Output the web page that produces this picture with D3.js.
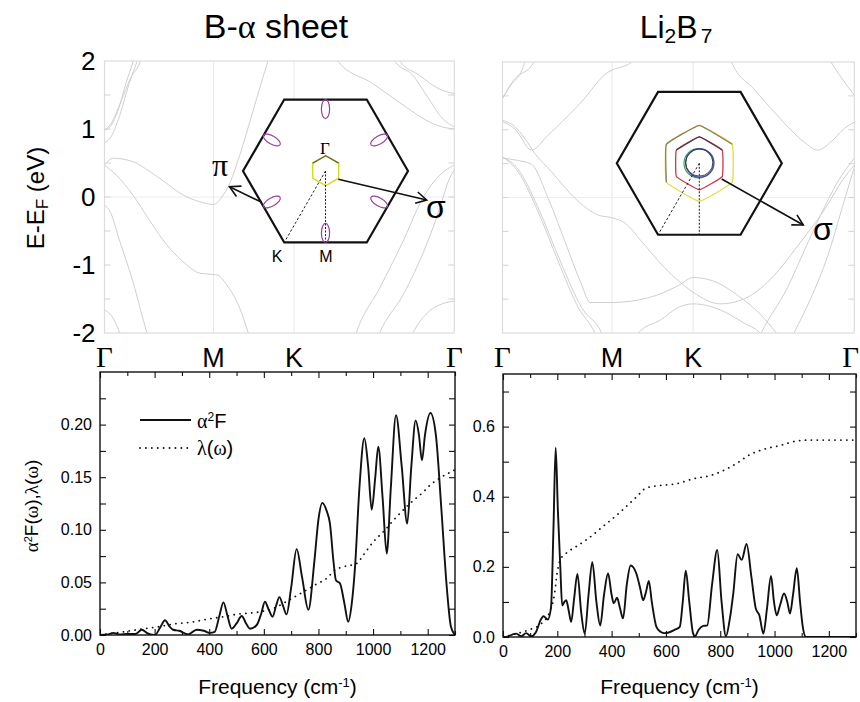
<!DOCTYPE html>
<html><head><meta charset="utf-8">
<script src="https://cdn.jsdelivr.net/npm/d3@7"></script>
<style>
body{margin:0;background:#fff}
text{font-family:"Liberation Sans",Arial,sans-serif;fill:#000}
</style></head>
<body><svg id="c" width="860" height="702" xmlns="http://www.w3.org/2000/svg"></svg>
<script>
// ---------- DATA ----------
const titles = ["B-α sheet", "Li2B7"];
const kTicks = [0, 1, 1.74, 3.21];
const kLabels = ["Γ", "M", "K", "Γ"];
const eTicks = [-2, -1, 0, 1, 2];

// band structure of B-alpha sheet, [k, E(eV)]
const bandsAlpha = [
  [[0,0.47],[0.08,0.57],[0.26,0.52],[0.42,0.37],[0.57,0.20],[0.72,0.03],[0.875,-0.07],[1.0,-0.11],[1.09,0.03],[1.135,0.15],[1.24,0.61],[1.36,1.25],[1.50,2.0],[1.53,2.15]],
  [[0,0.47],[0.11,0.32],[0.26,0.03],[0.42,-0.36],[0.57,-0.70],[0.72,-0.95],[0.875,-1.12],[1.0,-1.14],[1.04,-1.15],[1.12,-1.29],[1.24,-1.63],[1.32,-2.0],[1.35,-2.15]],
  [[0,0.80],[0.05,0.86],[0.14,1.20],[0.23,1.69],[0.30,2.0],[0.32,2.1]],
  [[0,0.98],[0.05,1.03],[0.13,1.30],[0.20,1.69],[0.26,1.98],[0.28,2.1]],
  [[0,0.98],[0.06,1.08],[0.15,1.40],[0.24,1.75],[0.33,2.0],[0.35,2.1]],
  [[0,-0.12],[0.05,-0.21],[0.14,-0.65],[0.26,-1.24],[0.39,-2.0],[0.41,-2.1]],
  [[0,-1.66],[0.05,-1.72],[0.14,-2.0],[0.16,-2.1]],
  [[2.12,2.1],[2.14,2.0],[2.46,1.67],[2.77,1.32],[2.95,1.13],[3.1,1.03],[3.21,1.0]],
  [[2.64,2.1],[2.663,2.0],[2.83,1.79],[2.953,1.5],[3.105,1.15],[3.21,1.03]],
  [[2.69,2.1],[2.71,2.0],[2.89,1.79],[3.07,1.59],[3.21,1.52]],
  [[2.28,-2.15],[2.31,-2.0],[2.525,-1.34],[2.74,-0.65],[2.92,-0.02],[3.075,0.32],[3.21,0.47]],
  [[2.5,-2.1],[2.525,-2.0],[2.74,-1.44],[2.95,-0.72],[3.08,-0.15],[3.16,0.25],[3.21,0.40]],
  [[2.80,-2.1],[2.83,-2.0],[2.98,-1.68],[3.1,-1.57],[3.21,-1.53]]
];

// band structure of Li2B7, [k, E(eV)]
const bandsLi = [
  [[0,1.46],[0.1,1.73],[0.28,1.98],[0.3,2.1]],
  [[0,1.46],[0.06,1.62],[0.2,1.98],[0.22,2.1]],
  [[0,1.12],[0.12,1.0],[0.264,0.70],[0.416,0.92],[0.72,1.41],[0.965,1.85],[1.0,1.88],[1.18,2.0],[1.22,2.1]],
  [[0,1.14],[0.11,1.05],[0.2,0.88],[0.3,0.64],[0.447,0.38],[0.66,-0.01],[0.875,-0.26],[1.0,-0.30],[1.12,-0.38],[1.27,-0.65],[1.48,-1.04],[1.606,-1.23],[1.74,-1.40],[1.99,-1.57],[2.2,-1.5],[2.45,-1.2],[2.7,-0.7],[2.95,-0.15],[3.1,0.25],[3.21,0.48]],
  [[0,0.58],[0.13,0.55],[0.264,0.49],[0.416,-0.01],[0.57,-0.65],[0.72,-1.28],[0.80,-1.55],[1.0,-1.55],[1.33,-1.48],[1.606,-1.30],[1.74,-1.18],[1.95,-1.25],[2.15,-1.45],[2.35,-1.72],[2.5,-2.0],[2.55,-2.1]],
  [[0,0.60],[0.142,0.38],[0.325,-0.21],[0.508,-0.94],[0.69,-1.62],[0.843,-2.0],[0.87,-2.1]],
  [[0,0.60],[0.142,0.42],[0.325,-0.15],[0.53,-0.95],[0.72,-1.62],[0.904,-2.0],[0.93,-2.1]],
  [[1.22,-2.1],[1.24,-2.0],[1.45,-1.8],[1.606,-1.62],[1.74,-1.57],[1.99,-1.66],[2.2,-1.85],[2.35,-2.0],[2.4,-2.1]],
  [[2.07,2.1],[2.09,2.0],[2.295,1.60],[2.508,1.21],[2.752,0.82],[2.875,0.70],[2.997,0.82],[3.12,1.02],[3.21,1.11]],
  [[2.96,2.1],[2.997,2.0],[3.1,1.75],[3.21,1.51]],
  [[2.33,-2.1],[2.36,-2.0],[2.6,-1.33],[2.752,-0.79],[2.905,-0.25],[3.058,0.23],[3.21,0.58]],
  [[2.63,-2.1],[2.66,-2.0],[2.81,-1.5],[2.97,-0.85],[3.1,-0.15],[3.21,0.45]]
];

// Eliashberg function and lambda, B-alpha sheet
const freqA2FLeft = [0,30,49,70,100,130,153,175,201,220,238,255,268,290,323,354,380,403,420,437,452,467,482,500,519,535,549,574,590,604,618,632,645,657,670,683,700,720,740,763,785,800,814,830,842,855,864,879,895,909,922,934,950,968,982,995,1008,1019,1035,1050,1065,1084,1105,1125,1140,1156,1168,1179,1190,1210,1230,1250,1270,1285,1300];
const a2fLeft = [0,0.0005,0.002,0.0005,0.001,0.001,0.005,0.0015,0.0,0.007,0.014,0.008,0.005,0.004,0.0006,0.005,0.004,0.002,0.003,0.018,0.031,0.018,0.006,0.011,0.018,0.011,0.006,0.0095,0.02,0.0316,0.024,0.0174,0.028,0.036,0.028,0.0196,0.045,0.0816,0.055,0.024,0.07,0.11,0.1256,0.118,0.106,0.07,0.052,0.049,0.03,0.0126,0.03,0.065,0.14,0.187,0.16,0.119,0.15,0.179,0.13,0.0775,0.14,0.209,0.16,0.106,0.16,0.204,0.19,0.166,0.19,0.211,0.19,0.12,0.045,0.008,0.0];
const freqLamLeft = [0,85,146,207,268,330,391,452,510,574,635,696,745,793,830,860,891,940,964,1001,1037,1086,1135,1184,1208,1250,1300];
const lamLeft = [0,0.003,0.0054,0.0075,0.0104,0.012,0.0149,0.0174,0.02,0.0215,0.0253,0.0338,0.0411,0.0484,0.0538,0.0617,0.0648,0.068,0.0759,0.0886,0.098,0.1123,0.125,0.136,0.1423,0.15,0.157];

// Eliashberg function and lambda, Li2B7
const freqA2FRight = [0,20,36,49,67,85,104,120,141,149,165,177,186,194,202,211,218,226,233,242,251,262,274,288,301,315,329,344,358,372,387,400,408,420,430,442,456,470,491,505,516,527,537,548,565,580,596,633,651,662,673,686,700,707,720,737,752,770,789,805,821,835,848,864,879,897,915,931,944,959,972,987,998,1008,1020,1035,1047,1057,1068,1082,1094,1104,1116,1200,1300];
const a2fRight = [0,0.002,0.0076,0.0095,0.002,0.011,0.002,0.012,0.052,0.059,0.05,0.086,0.315,0.54,0.363,0.2,0.09,0.1,0.105,0.075,0.043,0.11,0.18,0.07,0.0095,0.12,0.213,0.1,0.033,0.12,0.181,0.12,0.096,0.112,0.085,0.053,0.15,0.204,0.181,0.14,0.105,0.13,0.16,0.1,0.029,0.015,0.011,0.021,0.029,0.1,0.189,0.1,0.01,0.002,0.02,0.0315,0.033,0.15,0.248,0.1,0.002,0.05,0.124,0.236,0.22,0.265,0.17,0.081,0.062,0.0095,0.08,0.174,0.1,0.062,0.09,0.124,0.1,0.067,0.12,0.196,0.1,0.029,0.0,0.0,0.0];
const freqLamRight = [0,49,98,141,172,190,199,211,233,270,307,368,430,491,528,577,639,700,762,823,860,909,959,1020,1082,1131,1200,1300];
const lamRight = [0,0.0095,0.021,0.038,0.072,0.124,0.181,0.22,0.239,0.258,0.277,0.315,0.355,0.399,0.425,0.432,0.437,0.451,0.46,0.479,0.495,0.52,0.535,0.546,0.559,0.5615,0.5615,0.5615];

const freqTicks = [0,200,400,600,800,1000,1200];
const freqMinor = [100,300,500,700,900,1100,1300];
const leftYTicks = [0,0.05,0.10,0.15,0.20];
const leftYMinor = [0.025,0.075,0.125,0.175,0.225];
const rightYTicks = [0,0.2,0.4,0.6];
const rightYMinor = [0.1,0.3,0.5,0.7];

// ---------- DRAW ----------
const svg = d3.select("#c");
svg.append("rect").attr("width",860).attr("height",702).attr("fill","#fff");
const defs = svg.append("defs");

function topPanel(id, x0, x1, y0, y1, bands, showY) {
  const k = d3.scaleLinear().domain([0, 3.21]).range([x0, x1]);
  const e = d3.scaleLinear().domain([-2, 2]).range([y1, y0]);
  const g = svg.append("g");
  defs.append("clipPath").attr("id", id).append("rect")
    .attr("x", x0).attr("y", y0).attr("width", x1 - x0).attr("height", y1 - y0);
  [kTicks[1], kTicks[2]].forEach(t => g.append("line")
    .attr("x1", k(t)).attr("x2", k(t)).attr("y1", y0).attr("y2", y1)
    .attr("stroke", "#e8e8e8").attr("stroke-width", 1));
  g.append("line").attr("x1", x0).attr("x2", x1).attr("y1", e(0)).attr("y2", e(0))
    .attr("stroke", "#eeeeee").attr("stroke-width", 1);
  const line = d3.line().x(d => k(d[0])).y(d => e(d[1])).curve(d3.curveMonotoneX);
  g.append("g").attr("clip-path", `url(#${id})`).selectAll("path").data(bands).join("path")
    .attr("d", line).attr("fill", "none").attr("stroke", "#cfcfcf").attr("stroke-width", 1);
  g.append("rect").attr("x", x0).attr("y", y0).attr("width", x1 - x0).attr("height", y1 - y0)
    .attr("fill", "none").attr("stroke", "#dcdcdc").attr("stroke-width", 1.2);
  d3.range(-1.5, 1.51, 0.5).forEach(t => {
    g.append("line").attr("x1", x0).attr("x2", x0 + 6).attr("y1", e(t)).attr("y2", e(t)).attr("stroke", "#d4d4d4");
    g.append("line").attr("x1", x1).attr("x2", x1 - 6).attr("y1", e(t)).attr("y2", e(t)).attr("stroke", "#d4d4d4");
  });
  if (showY) {
    const ax = g.append("g").attr("transform", `translate(${x0},0)`)
      .call(d3.axisLeft(e).tickValues(eTicks).tickSize(0).tickPadding(9).tickFormat(d => String(d)));
    ax.select(".domain").remove();
    ax.selectAll("text").style("font-family", '"Liberation Sans",Arial,sans-serif').style("font-size", "26px");
  }
  kTicks.forEach((t, i) => {
    const isG = kLabels[i] === "Γ";
    const last = i === kTicks.length - 1 && x1 > 850;
    g.append("text").attr("x", last ? 859 : k(t)).attr("y", 367).attr("text-anchor", last ? "end" : "middle")
      .style("font-family", isG ? '"Liberation Serif","Times New Roman",serif' : '"Liberation Sans",Arial,sans-serif')
      .style("font-size", isG ? "29px" : "27px").text(kLabels[i]);
  });
  return {k, e};
}

topPanel("clipA", 104.5, 454.3, 61, 333, bandsAlpha, true);
topPanel("clipL", 502.5, 854.3, 62, 333, bandsLi, false);

svg.append("text").attr("transform", "translate(44,198) rotate(-90)").attr("text-anchor", "middle")
  .style("font-size", "24px")
  .call(t => { t.append("tspan").text("E-E");
               t.append("tspan").attr("baseline-shift", "-25%").style("font-size", "17px").text("F");
               t.append("tspan").text(" (eV)"); });

svg.append("text").attr("x", 276).attr("y", 38).attr("text-anchor", "middle").style("font-size", "34px")
  .call(t => { t.append("tspan").text("B-");
               t.append("tspan").style("font-family", '"Liberation Serif",serif').text("α");
               t.append("tspan").text(" sheet"); });
svg.append("text").attr("x", 676).attr("y", 38).attr("text-anchor", "middle").style("font-size", "32px")
  .call(t => { t.append("tspan").text("Li");
               t.append("tspan").attr("baseline-shift", "-25%").style("font-size", "21px").text("2");
               t.append("tspan").text("B");
               t.append("tspan").attr("baseline-shift", "-25%").style("font-size", "21px").attr("dx", 3).text("7"); });

// ---------- Insets ----------
function hexPts(cx, cy, r, flat) {
  return d3.range(6).map(i => {
    const a = (flat ? 0 : 30) * Math.PI / 180 + i * Math.PI / 3;
    return [cx + r * Math.cos(a), cy - r * Math.sin(a)];
  });
}
function arrow(g, x1, y1, x2, y2) {
  g.append("line").attr("x1", x1).attr("y1", y1).attr("x2", x2).attr("y2", y2)
    .attr("stroke", "#111").attr("stroke-width", 1.6);
  const ang = Math.atan2(y2 - y1, x2 - x1), L = 12, h = 0.5;
  const p = [[x2 - L * Math.cos(ang - h), y2 - L * Math.sin(ang - h)], [x2, y2], [x2 - L * Math.cos(ang + h), y2 - L * Math.sin(ang + h)]];
  g.append("path").attr("d", d3.line()(p)).attr("fill", "none").attr("stroke", "#111").attr("stroke-width", 1.6);
}
const closed = d3.line().curve(d3.curveLinearClosed);

{
  const g = svg.append("g");
  const cx = 325.5, cy = 171, R = 82.5;
  const hex = hexPts(cx, cy, R, true);
  g.append("path").attr("d", closed(hex)).attr("fill", "#fff").attr("stroke", "#111").attr("stroke-width", 2.2);
  const ap = R * Math.sqrt(3) / 2;
  d3.range(6).forEach(i => {
    const a = (30 + 60 * i);
    const ex = cx + (ap - 9.5) * Math.cos(a * Math.PI / 180), ey = cy - (ap - 9.5) * Math.sin(a * Math.PI / 180);
    g.append("ellipse").attr("cx", 0).attr("cy", 0).attr("rx", 9.5).attr("ry", 4.1)
      .attr("transform", `translate(${ex},${ey}) rotate(${-a})`)
      .attr("fill", "none").attr("stroke", "#9b3fa0").attr("stroke-width", 1.2);
  });
  const sh = hexPts(cx + 0.2, cy - 0.3, 15, false);
  g.append("path").attr("d", closed(sh)).attr("fill", "none").attr("stroke", "#d8d820").attr("stroke-width", 1.4);
  g.append("path").attr("d", d3.line()([sh[2], sh[1], sh[0]])).attr("fill", "none")
    .attr("stroke", "#6d6a30").attr("stroke-width", 1.4);
  g.append("line").attr("x1", cx).attr("y1", cy).attr("x2", hex[4][0]).attr("y2", hex[4][1])
    .attr("stroke", "#222").attr("stroke-width", 1).attr("stroke-dasharray", "2.5,2");
  g.append("line").attr("x1", cx).attr("y1", cy).attr("x2", cx).attr("y2", cy + ap)
    .attr("stroke", "#222").attr("stroke-width", 1).attr("stroke-dasharray", "2,1.5");
  g.append("text").attr("x", 325).attr("y", 153.5).attr("text-anchor", "middle")
    .style("font-family", '"Liberation Serif",serif').style("font-size", "17px").text("Γ");
  g.append("text").attr("x", 277).attr("y", 262).attr("text-anchor", "middle").style("font-size", "16px").text("K");
  g.append("text").attr("x", 326).attr("y", 262).attr("text-anchor", "middle").style("font-size", "16px").text("M");
  arrow(g, 261.7, 202.3, 229.5, 186.7);
  g.append("text").attr("x", 220).attr("y", 176).attr("text-anchor", "middle")
    .style("font-family", '"Liberation Serif",serif').style("font-size", "32px").text("π");
  arrow(g, 338.3, 179.2, 426.7, 200);
  g.append("text").attr("x", 426).attr("y", 218).style("font-size", "32px").text("σ");
}

{
  const g = svg.append("g");
  const cx = 699.3, cy = 163.3, R = 82.5;
  const hex = hexPts(cx, cy, R, true);
  g.append("path").attr("d", closed(hex)).attr("fill", "#fff").attr("stroke", "#111").attr("stroke-width", 2.2);
  const rounded = d3.line().curve(d3.curveCardinalClosed.tension(0.75));
  const hy = hexPts(cx, cy, 38, false);
  g.append("path").attr("d", rounded(hy)).attr("fill", "none").attr("stroke", "#dede3a").attr("stroke-width", 1.3);
  g.append("path").attr("d", d3.line().curve(d3.curveCardinal.tension(0.75))([hy[3], hy[2], hy[1], hy[0]]))
    .attr("fill", "none").attr("stroke", "#8a7f5e").attr("stroke-width", 1.3);
  const hr = hexPts(cx, cy, 26.5, false);
  g.append("path").attr("d", rounded(hr)).attr("fill", "none").attr("stroke", "#c8394a").attr("stroke-width", 1.3);
  g.append("path").attr("d", d3.line().curve(d3.curveCardinal.tension(0.75))([hr[2], hr[1], hr[0]]))
    .attr("fill", "none").attr("stroke", "#5a3545").attr("stroke-width", 1.3);
  g.append("circle").attr("cx", cx - 0.7).attr("cy", cy).attr("r", 14.6).attr("fill", "none").attr("stroke", "#3fa255").attr("stroke-width", 1.2);
  g.append("circle").attr("cx", cx + 0.5).attr("cy", cy - 0.3).attr("r", 14.2).attr("fill", "none").attr("stroke", "#4747a8").attr("stroke-width", 1.2);
  g.append("circle").attr("cx", cx).attr("cy", cy - 0.8).attr("r", 13.6).attr("fill", "none").attr("stroke", "#403050").attr("stroke-width", 0.9);
  g.append("line").attr("x1", cx).attr("y1", cy).attr("x2", hex[4][0]).attr("y2", hex[4][1])
    .attr("stroke", "#222").attr("stroke-width", 1).attr("stroke-dasharray", "2.5,2");
  g.append("line").attr("x1", cx).attr("y1", cy).attr("x2", cx).attr("y2", cy + R * Math.sqrt(3) / 2)
    .attr("stroke", "#222").attr("stroke-width", 1).attr("stroke-dasharray", "2,1.5");
  arrow(g, 721.7, 179, 803.3, 225);
  g.append("text").attr("x", 813).attr("y", 240).style("font-size", "32px").text("σ");
}

// ---------- Bottom panels ----------
function bottomPanel(id, x0, x1, y0, y1, ymax, yT, yM, yFmt, fA, vA, fL, vL) {
  const x = d3.scaleLinear().domain([0, 1300]).range([x0, x1]);
  const y = d3.scaleLinear().domain([0, ymax]).range([y1, y0]);
  const g = svg.append("g");
  defs.append("clipPath").attr("id", id).append("rect")
    .attr("x", x0).attr("y", y0 - 2).attr("width", x1 - x0).attr("height", y1 - y0 + 2);
  const line = d3.line().x(d => x(d[0])).y(d => y(d[1])).curve(d3.curveMonotoneX);
  const cg = g.append("g").attr("clip-path", `url(#${id})`);
  cg.append("path").attr("d", line(fL.map((f, i) => [f, vL[i]]))).attr("fill", "none")
    .attr("stroke", "#111").attr("stroke-width", 1.8).attr("stroke-dasharray", "0.1,5.8").attr("stroke-linecap", "round");
  cg.append("path").attr("d", line(fA.map((f, i) => [f, vA[i]]))).attr("fill", "none")
    .attr("stroke", "#111").attr("stroke-width", 1.9);
  const style = a => { a.select(".domain").remove(); a.selectAll("line").attr("stroke", "#111").attr("stroke-width", 1.1); };
  const ax = g.append("g").attr("transform", `translate(0,${y1})`)
    .call(d3.axisBottom(x).tickValues(freqTicks).tickSize(-6).tickPadding(9).tickFormat(d => String(d)));
  style(ax); ax.selectAll("text").style("font-size", "16px").style("font-family", '"Liberation Sans",Arial,sans-serif');
  style(g.append("g").attr("transform", `translate(0,${y1})`).call(d3.axisBottom(x).tickValues(freqMinor).tickSize(-4).tickFormat("")));
  style(g.append("g").attr("transform", `translate(0,${y0})`).call(d3.axisTop(x).tickValues(freqTicks).tickSize(-6).tickFormat("")));
  style(g.append("g").attr("transform", `translate(0,${y0})`).call(d3.axisTop(x).tickValues(freqMinor).tickSize(-4).tickFormat("")));
  const ay = g.append("g").attr("transform", `translate(${x0},0)`)
    .call(d3.axisLeft(y).tickValues(yT).tickSize(-6).tickPadding(8).tickFormat(yFmt));
  style(ay); ay.selectAll("text").style("font-size", "16px").style("font-family", '"Liberation Sans",Arial,sans-serif');
  style(g.append("g").attr("transform", `translate(${x0},0)`).call(d3.axisLeft(y).tickValues(yM).tickSize(-6).tickFormat("")));
  style(g.append("g").attr("transform", `translate(${x1},0)`).call(d3.axisRight(y).tickValues(yT.concat(yM)).tickSize(-6).tickFormat("")));
  g.append("rect").attr("x", x0).attr("y", y0).attr("width", x1 - x0).attr("height", y1 - y0)
    .attr("fill", "none").attr("stroke", "#111").attr("stroke-width", 1.4);
  g.append("text").attr("x", (x0 + x1) / 2).attr("y", 694).attr("text-anchor", "middle").style("font-size", "21px")
    .call(t => { t.append("tspan").text("Frequency (cm");
                 t.append("tspan").attr("baseline-shift", "super").style("font-size", "13px").text("-1");
                 t.append("tspan").text(")"); });
  return {x, y, g};
}

bottomPanel("clipBL", 100, 455, 372, 635, 0.25, leftYTicks, leftYMinor, d3.format(".2f"),
  freqA2FLeft, a2fLeft, freqLamLeft, lamLeft);
bottomPanel("clipBR", 503, 856, 374, 637, 0.75, rightYTicks, rightYMinor, d3.format(".1f"),
  freqA2FRight, a2fRight, freqLamRight, lamRight);

svg.append("line").attr("x1", 140).attr("x2", 191).attr("y1", 420).attr("y2", 420).attr("stroke", "#111").attr("stroke-width", 1.9);
svg.append("text").attr("x", 197).attr("y", 428).style("font-size", "20px")
  .call(t => { t.append("tspan").style("font-family", '"Liberation Serif",serif').text("α");
               t.append("tspan").attr("baseline-shift", "super").style("font-size", "12px").text("2");
               t.append("tspan").text("F"); });
svg.append("line").attr("x1", 140).attr("x2", 191).attr("y1", 448).attr("y2", 448).attr("stroke", "#111")
  .attr("stroke-width", 1.8).attr("stroke-dasharray", "0.1,5.8").attr("stroke-linecap", "round");
svg.append("text").attr("x", 197).attr("y", 455).style("font-size", "20px")
  .call(t => { t.append("tspan").style("font-family", '"Liberation Serif",serif').text("λ");
               t.append("tspan").text("(");
               t.append("tspan").style("font-family", '"Liberation Serif",serif').text("ω");
               t.append("tspan").text(")"); });

svg.append("text").attr("transform", "translate(38,506) rotate(-90)").attr("text-anchor", "middle").style("font-size", "19px")
  .call(t => { t.append("tspan").style("font-family", '"Liberation Serif",serif').text("α");
               t.append("tspan").attr("baseline-shift", "super").style("font-size", "11px").text("2");
               t.append("tspan").text("F(");
               t.append("tspan").style("font-family", '"Liberation Serif",serif').text("ω");
               t.append("tspan").text("),");
               t.append("tspan").style("font-family", '"Liberation Serif",serif').text("λ");
               t.append("tspan").text("(");
               t.append("tspan").style("font-family", '"Liberation Serif",serif').text("ω");
               t.append("tspan").text(")"); });
</script></body></html>
